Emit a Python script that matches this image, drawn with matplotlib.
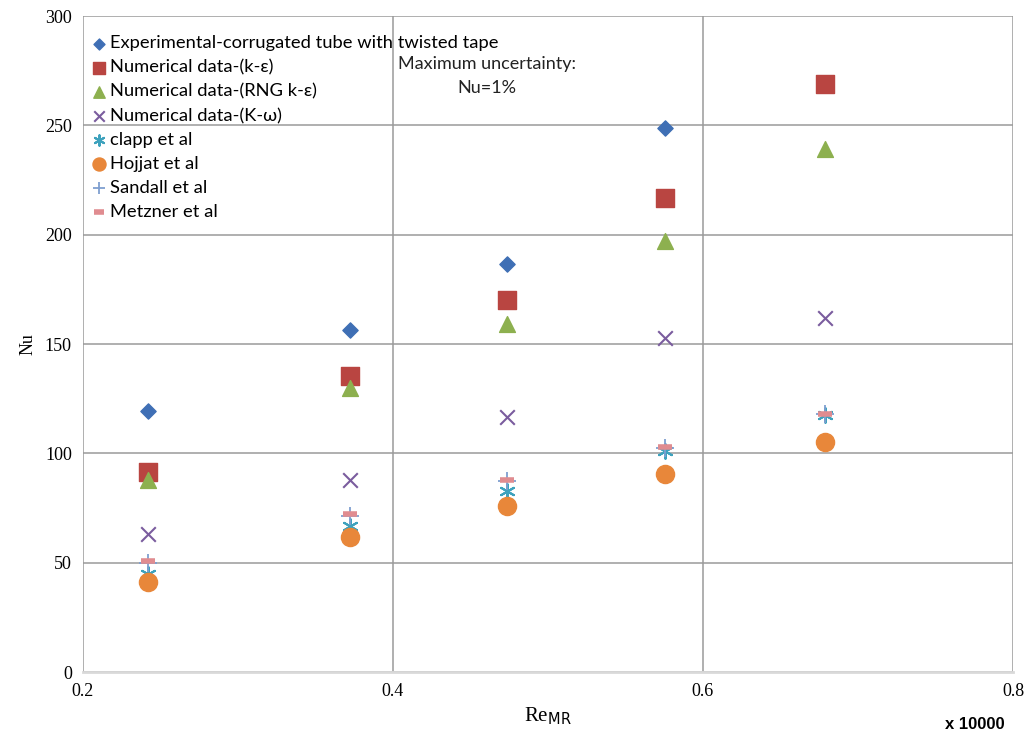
import matplotlib.pyplot as plt

re_mr = [0.242, 0.372, 0.4735, 0.5755, 0.679]

nu_exp = [119.3, 156.3, 186.5, 248.6]
nu_ke = [91.4, 135.3, 170.0, 217.0, 269.0]
nu_rng = [87.8, 129.8, 159.0, 197.0, 239.0]
nu_kw = [63.0, 87.8, 116.5, 152.6, 161.8]
nu_clapp = [44.8, 67.0, 82.7, 101.0, 117.5]
nu_hojjat = [41.0, 61.7, 75.9, 90.5, 105.0]
nu_sandall = [50.0, 71.3, 87.3, 102.4, 118.0]
nu_metzner = [50.7, 72.2, 87.8, 102.8, 118.0]

fig = plt.figure(figsize=(10.28, 7.38), dpi=100)
ax = fig.add_axes([0.0807, 0.0894, 0.9047, 0.8889])

ax.scatter(re_mr[:4], nu_exp, marker='D', s=60, color='#3F6FB5', label='Experimental-corrugated tube with twisted tape', zorder=3)
ax.scatter(re_mr, nu_ke, marker='s', s=150, color='#B94541', label='Numerical data-(k-ε)', zorder=3)
ax.scatter(re_mr, nu_rng, marker='^', s=130, color='#8DB04F', label='Numerical data-(RNG k-ε)', zorder=3)
ax.scatter(re_mr, nu_kw, marker='x', s=110, color='#7A5C9E', linewidths=1.5, label='Numerical data-(K-ω)', zorder=3)
ax.scatter(re_mr, nu_clapp, marker=(6, 2, 0), s=110, color='#3EA2BD', linewidths=1.5, label='clapp et al', zorder=3)
ax.scatter(re_mr, nu_hojjat, marker='o', s=170, color='#E8873A', label='Hojjat et al', zorder=3)
ax.scatter(re_mr, nu_sandall, marker='+', s=150, color='#7F9FD0', linewidths=1.3, label='Sandall et al', zorder=4)
ax.scatter(re_mr, nu_metzner, marker='_', s=110, color='#E08C90', linewidths=4, label='Metzner et al', zorder=4)

ax.set_xlim(0.2, 0.8)
ax.set_ylim(0, 300)
ax.set_xticks([0.2, 0.4, 0.6, 0.8])
ax.set_xticklabels(['0.2', '0.4', '0.6', '0.8'])
ax.set_yticks(range(0, 301, 50))
ax.grid(color='#9a9a9a', linewidth=1.1)
ax.set_axisbelow(True)
for s in ['top', 'right', 'left']:
    ax.spines[s].set_visible(False)
ax.spines['bottom'].set_color('#d9d9d9')
ax.spines['bottom'].set_linewidth(2)
ax.tick_params(length=0, labelsize=13, pad=8)
for lbl in ax.get_xticklabels() + ax.get_yticklabels():
    lbl.set_family('Liberation Serif')

ax.set_xlabel('Re$_{\\mathrm{MR}}$', family='Liberation Serif', fontsize=15, labelpad=4)
ax.set_ylabel('Nu', family='Liberation Serif', fontsize=13, labelpad=6)
fig.text(0.948, 0.012, 'x 10000', fontsize=12, weight='bold', family='Liberation Sans', ha='center')

ax.text(0.4606, 281.5, 'Maximum uncertainty:\nNu=1%', ha='center', va='top', fontsize=13,
        family='Lato', color='#222222', linespacing=1.55)

leg = ax.legend(loc='upper left', bbox_to_anchor=(-0.007, 0.99), frameon=False,
                prop={'family': 'Lato', 'size': 13.2}, handletextpad=0.05, handlelength=1.1,
                labelspacing=0.44, borderaxespad=0.3, markerscale=0.72)

fig.savefig('out.png', dpi=100)
